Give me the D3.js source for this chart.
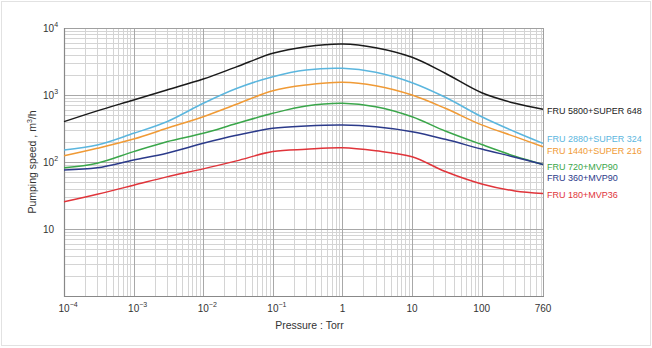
<!DOCTYPE html>
<html>
<head>
<meta charset="utf-8">
<script src="https://cdn.jsdelivr.net/npm/d3@7"></script>
<style>
  html, body { margin: 0; padding: 0; background: #fff; }
  svg { display: block; }
  text { font-family: "Liberation Sans", Arial, sans-serif; fill: #333; }
</style>
</head>
<body>
<svg id="chart" width="652" height="348"></svg>
<script>
// Pressure points (Torr) at which each pumping-speed curve is sampled
const pressure = [1e-4, 3e-4, 1e-3, 3e-3, 0.01, 0.03, 0.1, 0.3, 1, 3, 10, 30, 100, 300, 760];

// Pumping speed (m³/h) for each pump combination
const fru5800 = [400, 580, 842, 1190, 1733, 2630, 4190, 5250, 5770, 5080, 3655, 2110, 1080, 752, 612];
const fru2880 = [151, 179, 268, 399, 752, 1250, 1876, 2360, 2500, 2183, 1527, 925, 474, 283, 190];
const fru1440 = [124, 160, 220, 318, 474, 726, 1159, 1410, 1548, 1377, 1000, 633, 358, 239, 169];
const fru720  = [82, 96, 143, 201, 268, 375, 533, 685, 752, 669, 474, 290, 182, 122, 92];
const fru360  = [76, 82, 107, 135, 190, 250, 318, 345, 357, 336, 283, 218, 156, 118, 92];
const fru180  = [25.6, 33, 45, 60, 79, 104, 143, 155, 163, 147, 120, 72, 47, 37, 34];

const seriesNames  = ["FRU 5800+SUPER 648", "FRU 2880+SUPER 324", "FRU 1440+SUPER 216",
                      "FRU 720+MVP90", "FRU 360+MVP90", "FRU 180+MVP36"];
const seriesValues = [fru5800, fru2880, fru1440, fru720, fru360, fru180];
const seriesColors = ["#1a1a1a", "#5bb6de", "#f09a35", "#3aa64a", "#2b3a8a", "#e0343a"];

// Axis tick labels
const xTicks = [1e-4, 1e-3, 1e-2, 1e-1, 1, 10, 100, 760];
const xTickBase = ["10", "10", "10", "10", "1", "10", "100", "760"];
const xTickExp  = ["−4", "−3", "−2", "−1", "", "", "", ""];
const yTicks = [1e4, 1e3, 1e2, 10];
const yTickBase = ["10", "10", "10", "10"];
const yTickExp  = ["4", "3", "2", ""];

const svg = d3.select("#chart");
const plotLeft = 64, plotRight = 543, plotTop = 28, plotBottom = 296;

const x = d3.scaleLog().domain([1e-4, 760]).range([plotLeft, plotRight]);
const y = d3.scaleLog().domain([1, 1e4]).range([plotBottom, plotTop]);

// Outer light frame
svg.append("rect")
  .attr("x", 1.5).attr("y", 1.5).attr("width", 649).attr("height", 344)
  .attr("fill", "none").attr("stroke", "#e2e2e2").attr("stroke-width", 1);

// Grid: minor then major lines
const grid = svg.append("g");
const xMinor = [], xMajor = [];
for (let e = -4; e <= 2; e++) {
  for (let m = 1; m <= 9; m++) {
    const v = m * Math.pow(10, e);
    if (v > 760) continue;
    (m === 1 ? xMajor : xMinor).push(v);
  }
}
const yMinor = [], yMajor = [];
for (let e = 0; e <= 3; e++) {
  for (let m = 1; m <= 9; m++) {
    const v = m * Math.pow(10, e);
    (m === 1 ? yMajor : yMinor).push(v);
  }
}
yMajor.push(1e4);

grid.selectAll(".xmin").data(xMinor).join("line")
  .attr("x1", d => Math.round(x(d)) + 0.5).attr("x2", d => Math.round(x(d)) + 0.5)
  .attr("y1", plotTop).attr("y2", plotBottom)
  .attr("stroke", "#d4d4d4").attr("stroke-width", 1);
grid.selectAll(".ymin").data(yMinor).join("line")
  .attr("y1", d => Math.round(y(d)) + 0.5).attr("y2", d => Math.round(y(d)) + 0.5)
  .attr("x1", plotLeft).attr("x2", plotRight)
  .attr("stroke", "#d4d4d4").attr("stroke-width", 1);
grid.selectAll(".xmaj").data(xMajor).join("line")
  .attr("x1", d => Math.round(x(d)) + 0.5).attr("x2", d => Math.round(x(d)) + 0.5)
  .attr("y1", plotTop).attr("y2", plotBottom)
  .attr("stroke", "#a8a8a8").attr("stroke-width", 1);
grid.selectAll(".ymaj").data(yMajor).join("line")
  .attr("y1", d => Math.round(y(d)) + 0.5).attr("y2", d => Math.round(y(d)) + 0.5)
  .attr("x1", plotLeft).attr("x2", plotRight)
  .attr("stroke", "#a8a8a8").attr("stroke-width", 1);

// Plot frame
svg.append("rect")
  .attr("x", plotLeft + 0.5).attr("y", plotTop + 0.5)
  .attr("width", plotRight - plotLeft).attr("height", plotBottom - plotTop)
  .attr("fill", "none").attr("stroke", "#a0a0a0").attr("stroke-width", 1);
svg.append("line")
  .attr("x1", plotLeft + 0.5).attr("x2", plotLeft + 0.5).attr("y1", plotTop).attr("y2", plotBottom + 1)
  .attr("stroke", "#888").attr("stroke-width", 1.2);
svg.append("line")
  .attr("x1", plotLeft).attr("x2", plotRight + 1).attr("y1", plotBottom + 0.5).attr("y2", plotBottom + 0.5)
  .attr("stroke", "#888").attr("stroke-width", 1.2);

// Curves
const line = d3.line()
  .x(d => x(d[0]))
  .y(d => y(d[1]))
  .curve(d3.curveCatmullRom.alpha(0.5));

const curves = svg.append("g");
seriesValues.forEach((vals, i) => {
  const pts = pressure.map((p, k) => [p, vals[k]]);
  curves.append("path")
    .attr("d", line(pts))
    .attr("fill", "none")
    .attr("stroke", seriesColors[i])
    .attr("stroke-width", 1.5);
});

// Series labels at the right end of the curves
const labelY = [110.5, 138.5, 150.5, 166.5, 177.5, 195];
svg.append("g").selectAll("text").data(seriesNames).join("text")
  .attr("x", plotRight + 4)
  .attr("y", (d, i) => labelY[i] + 3)
  .attr("font-size", 9)
  .style("fill", (d, i) => seriesColors[i])
  .text(d => d);

// X tick labels
const xl = svg.append("g");
xTicks.forEach((t, i) => {
  const txt = xl.append("text")
    .attr("x", x(t) - (xTickExp[i] ? 5.5 : 0))
    .attr("y", 312)
    .attr("font-size", 10)
    .attr("text-anchor", xTickExp[i] ? "start" : "middle");
  txt.append("tspan").text(xTickBase[i]);
  if (xTickExp[i]) {
    txt.append("tspan").attr("dy", -5).attr("font-size", 7).text(xTickExp[i]);
  }
});

// Y tick labels
const yl = svg.append("g");
yTicks.forEach((t, i) => {
  const txt = yl.append("text")
    .attr("x", 43)
    .attr("y", y(t) + 4)
    .attr("font-size", 10)
    .attr("text-anchor", "start");
  txt.append("tspan").text(yTickBase[i]);
  if (yTickExp[i]) {
    txt.append("tspan").attr("dy", -5).attr("font-size", 7).text(yTickExp[i]);
  }
});

// Axis titles
svg.append("text")
  .attr("x", (plotLeft + plotRight) / 2 + 6)
  .attr("y", 329)
  .attr("font-size", 10.5)
  .attr("text-anchor", "middle")
  .text("Pressure : Torr");

const yt = svg.append("text")
  .attr("transform", `translate(36,${(plotTop + plotBottom) / 2}) rotate(-90)`)
  .attr("font-size", 10.5)
  .attr("text-anchor", "middle");
yt.append("tspan").text("Pumping speed , m");
yt.append("tspan").attr("dy", -4).attr("font-size", 7).text("3");
yt.append("tspan").attr("dy", 4).text("/h");
</script>
</body>
</html>
